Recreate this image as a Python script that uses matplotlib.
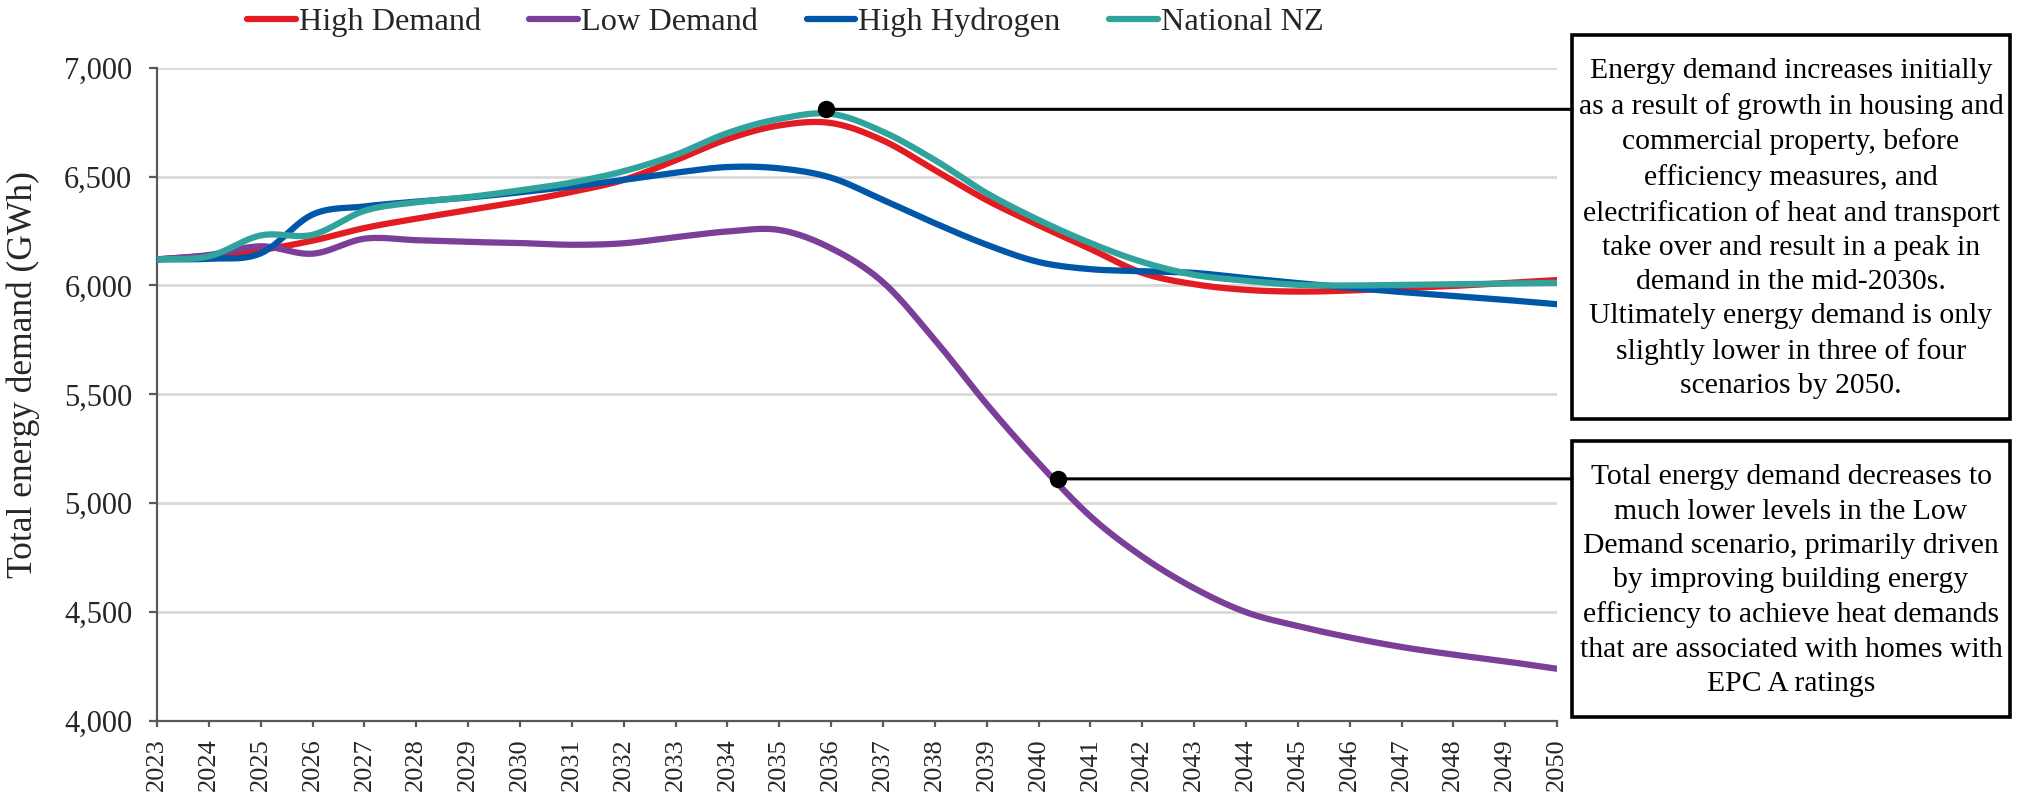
import numpy as np
import matplotlib

matplotlib.use("Agg")
import matplotlib.pyplot as plt
from matplotlib import transforms
from matplotlib.patches import Rectangle
from matplotlib.ticker import FuncFormatter

plt.rcParams["font.family"] = ["Liberation Serif", "DejaVu Serif"]

years = list(range(2023, 2051))

high_demand = [6120, 6137, 6163, 6206, 6264, 6307, 6346, 6385, 6430, 6485, 6575, 6672,
               6735, 6746, 6666, 6530, 6392, 6277, 6168, 6058, 6006, 5980, 5972, 5977,
               5988, 5998, 6011, 6025]
low_demand = [6120, 6140, 6180, 6146, 6215, 6208, 6200, 6195, 6187, 6194, 6222, 6248,
              6255, 6171, 6015, 5750, 5455, 5185, 4940, 4755, 4610, 4500, 4436, 4384,
              4340, 4305, 4274, 4240]
high_hydrogen = [6120, 6123, 6148, 6326, 6363, 6385, 6404, 6428, 6455, 6485, 6518, 6544,
                 6538, 6495, 6393, 6286, 6187, 6108, 6075, 6066, 6058, 6034, 6011, 5990,
                 5970, 5952, 5934, 5914]
national_nz = [6120, 6134, 6230, 6233, 6343, 6382, 6406, 6437, 6473, 6525, 6600, 6700,
               6765, 6788, 6706, 6576, 6424, 6301, 6195, 6108, 6049, 6022, 6003, 6000,
               6003, 6006, 6009, 6012]

series_names = ["High Demand", "Low Demand", "High Hydrogen", "National NZ"]
series_values = [high_demand, low_demand, high_hydrogen, national_nz]
series_colors = ["#E31B23", "#7B3F99", "#0057A8", "#2FA39C"]

# callout anchors: (year, value) on the curves
peak_point = (2035.91, 6809)
low_point = (2040.38, 5112)

peak_text = ("Energy demand increases initially\nas a result of growth in housing and\n"
             "commercial property, before\nefficiency measures, and\n"
             "electrification of heat and transport\ntake over and result in a peak in\n"
             "demand in the mid-2030s.\nUltimately energy demand is only\n"
             "slightly lower in three of four\nscenarios by 2050.")
low_text = ("Total energy demand decreases to\nmuch lower levels in the Low\n"
            "Demand scenario, primarily driven\nby improving building energy\n"
            "efficiency to achieve heat demands\nthat are associated with homes with\n"
            "EPC A ratings")


def smooth(x, y, n=24):
    # Catmull-Rom style smoothing, like a spreadsheet "smoothed line"
    x = np.asarray(x, float)
    y = np.asarray(y, float)
    m = np.empty_like(y)
    m[1:-1] = (y[2:] - y[:-2]) / 2
    m[0] = y[1] - y[0]
    m[-1] = y[-1] - y[-2]
    xs, ys = [], []
    for i in range(len(x) - 1):
        t = np.linspace(0, 1, n, endpoint=False)
        h00 = 2 * t**3 - 3 * t**2 + 1
        h10 = t**3 - 2 * t**2 + t
        h01 = -2 * t**3 + 3 * t**2
        h11 = t**3 - t**2
        xs.append(x[i] + t * (x[i + 1] - x[i]))
        ys.append(h00 * y[i] + h10 * m[i] + h01 * y[i + 1] + h11 * m[i + 1])
    xs.append([x[-1]])
    ys.append([y[-1]])
    return np.concatenate(xs), np.concatenate(ys)


fig = plt.figure(figsize=(20.19, 7.94), dpi=100)
ax = fig.add_axes([0.0778, 0.0919, 0.6934, 0.8228])

for name, vals, col in zip(series_names, series_values, series_colors):
    sx, sy = smooth(years, vals)
    ax.plot(sx, sy, color=col, lw=4.5, label=name, solid_capstyle="round", zorder=3)

ax.set_xlim(2023, 2050)
ax.set_ylim(4000, 7000)
ax.set_yticks(np.arange(4000, 7001, 500))
ax.yaxis.set_major_formatter(FuncFormatter(lambda v, p: f"{v:,.0f}"))
ax.set_xticks(years)
ax.set_xticklabels([str(y) for y in years], rotation=90)

ax.grid(axis="y", color="#d9d9d9", lw=2, zorder=0)
for s in ["top", "right"]:
    ax.spines[s].set_visible(False)
for s in ["left", "bottom"]:
    ax.spines[s].set_color("#595959")
    ax.spines[s].set_linewidth(1.6)
ax.tick_params(axis="both", colors="#595959", width=1.6, labelcolor="#262626")
ax.tick_params(axis="y", labelsize=22, length=5.8, pad=12)
ax.tick_params(axis="x", labelsize=19, length=4.3, pad=8)

ax.set_ylabel("Total energy demand (GWh)", fontsize=25.5, color="#262626")
ax.yaxis.label.set_va("center")
ax.yaxis.set_label_coords(-0.0957, 0.53)

fig.legend(loc="center", bbox_to_anchor=(0.389, 0.972), ncol=4, frameon=False,
           fontsize=23.3, handlelength=1.5, handletextpad=0.1, columnspacing=1.5,
           labelcolor="#262626")

# callout boxes on the right
W, H = 2019, 794
boxes = [(1572, 35, 2010, 419, peak_text), (1572, 441, 2010, 717, low_text)]
for x0, y0, x1, y1, txt in boxes:
    fig.add_artist(Rectangle((x0 / W, 1 - y1 / H), (x1 - x0) / W, (y1 - y0) / H,
                             transform=fig.transFigure, fill=False, ec="black", lw=2.6))
    fig.text((x0 + x1) / 2 / W, 1 - (y0 + y1) / 2 / H - 0.002, txt, ha="center",
             va="center", fontsize=21.3, linespacing=1.41, color="black")

trans = transforms.blended_transform_factory(fig.transFigure, ax.transData)
for (px, py) in [peak_point, low_point]:
    ax.annotate("", xy=(px, py), xycoords="data", xytext=(1572 / W, py), textcoords=trans,
                arrowprops=dict(arrowstyle="-", lw=2.2, color="black", shrinkA=0, shrinkB=0),
                annotation_clip=False, zorder=4)
    ax.plot([px], [py], "o", color="black", ms=11.5, zorder=5, clip_on=False)

fig.savefig("out.png", dpi=100)
